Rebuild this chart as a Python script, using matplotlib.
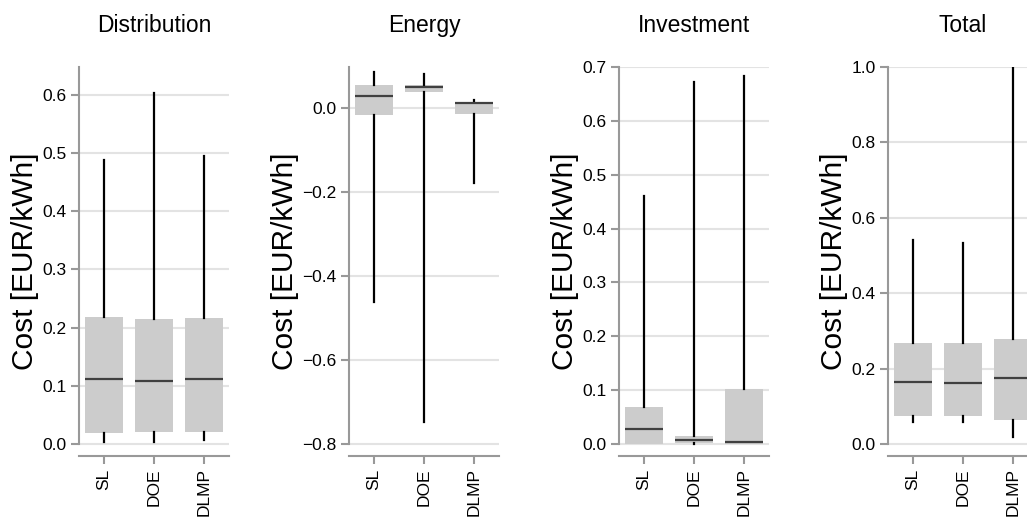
import matplotlib
matplotlib.use("Agg")
import matplotlib.pyplot as plt
import numpy as np

plt.rcParams['font.family'] = ['Liberation Sans', 'DejaVu Sans']

categories = ["SL", "DOE", "DLMP"]
titles = ["Distribution", "Energy", "Investment", "Total"]

# box statistics (EUR/kWh)
dist_whislo = [0.004, 0.004, 0.007]
dist_q1 = [0.0195, 0.020, 0.020]
dist_med = [0.111, 0.109, 0.111]
dist_q3 = [0.218, 0.215, 0.217]
dist_whishi = [0.489, 0.603, 0.495]

energy_whislo = [-0.461, -0.747, -0.177]
energy_q1 = [-0.015, 0.040, -0.013]
energy_med = [0.030, 0.052, 0.013]
energy_q3 = [0.056, 0.056, 0.016]
energy_whishi = [0.086, 0.083, 0.021]

inv_whislo = [0.0, 0.0, 0.0]
inv_q1 = [0.0, 0.001, 0.0]
inv_med = [0.027, 0.007, 0.004]
inv_q3 = [0.069, 0.015, 0.103]
inv_whishi = [0.460, 0.672, 0.683]

total_whislo = [0.059, 0.059, 0.019]
total_q1 = [0.075, 0.075, 0.064]
total_med = [0.164, 0.162, 0.175]
total_q3 = [0.269, 0.267, 0.278]
total_whishi = [0.540, 0.533, 1.0]

yticks = [np.arange(0, 0.61, 0.1), np.arange(-0.8, 0.01, 0.2),
          np.arange(0, 0.71, 0.1), np.arange(0, 1.01, 0.2)]
ylims = [(-0.0206, 0.648), (-0.8286, 0.0985), (-0.0223, 0.7), (-0.0318, 1.0)]

panels = [
    (dist_whislo, dist_q1, dist_med, dist_q3, dist_whishi),
    (energy_whislo, energy_q1, energy_med, energy_q3, energy_whishi),
    (inv_whislo, inv_q1, inv_med, inv_q3, inv_whishi),
    (total_whislo, total_q1, total_med, total_q3, total_whishi),
]

W, H = 1027, 519
fig = plt.figure(figsize=(W / 100, H / 100), dpi=100)
lefts = [79, 349, 619, 888]
axw, top, bottom = 150, 67, 456

gray = "#999999"
for i, (lo, q1, med, q3, hi) in enumerate(panels):
    ax = fig.add_axes([lefts[i] / W, (H - bottom) / H, axw / W, (bottom - top) / H])
    stats = [dict(whislo=lo[j], q1=q1[j], med=med[j], q3=q3[j], whishi=hi[j], fliers=[])
             for j in range(len(categories))]
    ax.bxp(stats, positions=[1, 2, 3], widths=0.76, patch_artist=True, showcaps=False,
           boxprops=dict(facecolor="#cccccc", edgecolor="none", linewidth=0),
           medianprops=dict(color="#404040", linewidth=1.6),
           whiskerprops=dict(color="black", linewidth=1.6))
    ax.set_xlim(0.5, 3.5)
    ax.set_ylim(*ylims[i])
    ax.set_yticks(yticks[i])
    ax.set_yticklabels([f"{v:.1f}".replace("-", "\u2212") if abs(v) > 1e-9 else "0.0"
                        for v in yticks[i]])
    ax.set_xticks([1, 2, 3])
    ax.set_xticklabels(categories, rotation=90)
    ax.grid(axis="y", color="#e3e3e3", linewidth=1.5)
    ax.set_axisbelow(True)
    for s in ["top", "right"]:
        ax.spines[s].set_visible(False)
    for s in ["left", "bottom"]:
        ax.spines[s].set_color(gray)
        ax.spines[s].set_linewidth(1.5)
    ax.spines["left"].set_bounds(yticks[i][0], ylims[i][1])
    ax.tick_params(axis="both", colors=gray, labelcolor="black", length=6,
                   width=1.5, labelsize=12.5, pad=3)
    ax.set_ylabel("Cost [EUR/kWh]", fontsize=21.5, labelpad=2)
    ax.set_title(titles[i], fontsize=16.5, pad=25)

fig.savefig("out.png", dpi=100)
